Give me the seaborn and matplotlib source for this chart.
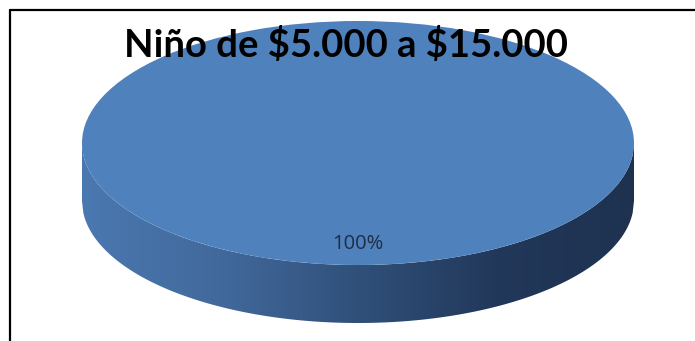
import numpy as np
import matplotlib
matplotlib.use("Agg")
import matplotlib.pyplot as plt
from matplotlib.colors import LinearSegmentedColormap
from matplotlib.path import Path
from matplotlib.patches import PathPatch
import seaborn as sns

# Chart data
title = "Niño de $5.000 a $15.000"
categories = ["Niño de $5.000 a $15.000"]
shares = [100]

sns.set_theme(style="white")
plt.rcParams["font.family"] = ["Lato", "DejaVu Sans"]

W, H, DPI = 695, 341, 100
fig = plt.figure(figsize=(W / DPI, H / DPI), dpi=DPI)
ax = fig.add_axes([0, 0, 1, 1])

top_color = "#4F81BD"

# Pie geometry (pixels): centre, semi-axes and wall depth
cx, cy = 358, 143
rx, ry = 276, 122
depth_px = 58
depth = depth_px / ry

# Side wall of the 3-D disc, shaded left-to-right
xs = np.linspace(-1, 1, 400)
edge = -np.sqrt(np.clip(1 - xs ** 2, 0, None))
verts = np.concatenate([
    np.column_stack([xs, edge]),
    np.column_stack([xs[::-1], edge[::-1] - depth]),
])
wall_path = Path(np.vstack([verts, verts[:1]]), closed=True)
wall = PathPatch(wall_path, facecolor="none", edgecolor="none")
ax.add_patch(wall)
side_cmap = LinearSegmentedColormap.from_list(
    "side", ["#4A78B0", "#42699C", "#30507A", "#22385A", "#1E3250"])
grad = np.linspace(0, 1, 256).reshape(1, -1)
img = ax.imshow(grad, cmap=side_cmap, extent=(-1, 1, -1 - depth, 0.1),
                aspect="auto", zorder=1, interpolation="bilinear")
img.set_clip_path(wall)

# Top face: the pie itself
wedges, texts, autotexts = ax.pie(
    shares, colors=[top_color], startangle=90, radius=1.0,
    autopct="%1.0f%%", pctdistance=0.83,
    wedgeprops=dict(linewidth=0, zorder=2),
    textprops=dict(color="#1F2D45", fontsize=14.5, family=["Open Sans", "DejaVu Sans"]),
)
for w in wedges:
    w.set_zorder(2)
for t in autotexts:
    t.set_zorder(3)

ax.set_aspect("auto")
ax.set_xlim((0 - cx) / rx, (W - cx) / rx)
ax.set_ylim((0 - (H - cy)) / ry, (H - (H - cy)) / ry)
ax.axis("off")

# Title
fig.text(346.5 / W, 1 - 45 / H, title, ha="center", va="center",
         fontsize=27.5, fontweight="bold", color="black", zorder=5,
         parse_math=False)

# Chart frame (only the left and top sides fall inside the image)
fig.add_artist(plt.Line2D([10 / W, 10 / W], [0, 1 - 10 / H],
                          transform=fig.transFigure, color="black", lw=1.6))
fig.add_artist(plt.Line2D([10 / W, 1], [1 - 10 / H, 1 - 10 / H],
                          transform=fig.transFigure, color="black", lw=1.6))

fig.savefig("out.png", dpi=DPI, facecolor="white")
